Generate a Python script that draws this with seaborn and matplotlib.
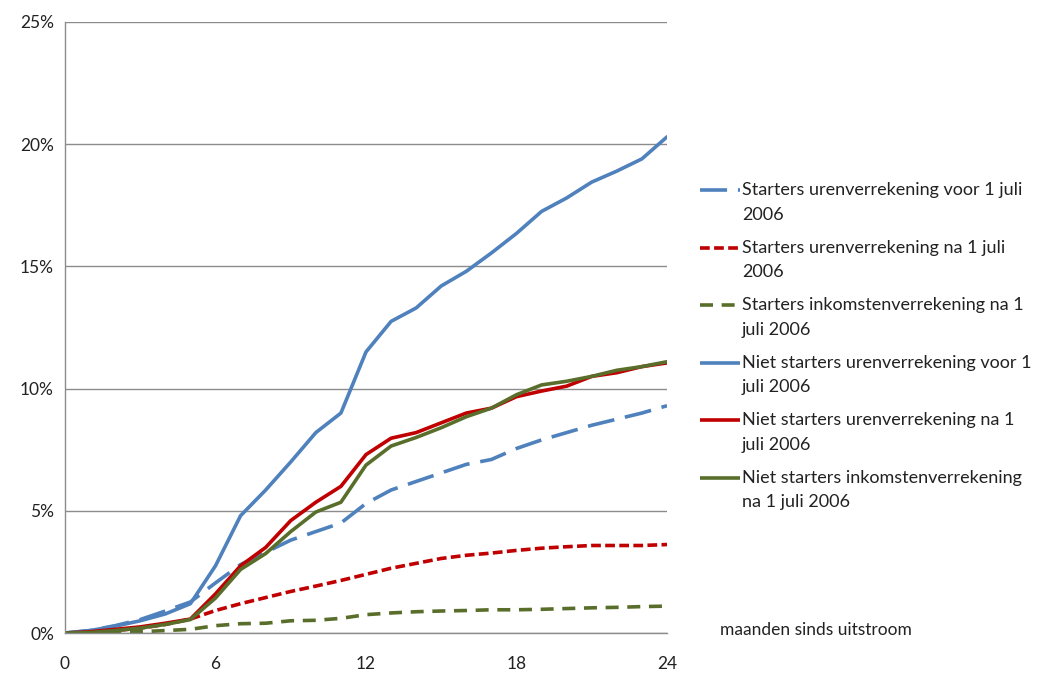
import matplotlib
matplotlib.use("Agg")
import matplotlib.pyplot as plt
from matplotlib.lines import Line2D
import seaborn as sns
import pandas as pd
from matplotlib.ticker import FuncFormatter

months = list(range(0, 25))

starters_uren_voor = [0, 0.1, 0.3, 0.55, 0.9, 1.27, 2.05, 2.8, 3.3, 3.8, 4.15, 4.5, 5.3,
                      5.85, 6.2, 6.55, 6.9, 7.1, 7.55, 7.9, 8.2, 8.5, 8.75, 9.0, 9.3]
starters_uren_na = [0, 0.02, 0.1, 0.2, 0.35, 0.57, 0.92, 1.2, 1.45, 1.7, 1.92, 2.15, 2.4,
                    2.65, 2.85, 3.05, 3.18, 3.27, 3.38, 3.47, 3.53, 3.58, 3.58, 3.58, 3.62]
starters_ink_na = [0, 0.0, 0.05, 0.05, 0.1, 0.15, 0.3, 0.38, 0.4, 0.5, 0.52, 0.6, 0.75,
                   0.82, 0.87, 0.9, 0.92, 0.95, 0.95, 0.97, 1.0, 1.03, 1.05, 1.08, 1.1]
niet_uren_voor = [0, 0.1, 0.28, 0.5, 0.78, 1.2, 2.75, 4.8, 5.85, 7.0, 8.2, 9.0, 11.5,
                  12.75, 13.3, 14.2, 14.8, 15.55, 16.35, 17.25, 17.8, 18.45, 18.9, 19.4, 20.3]
niet_uren_na = [0, 0.05, 0.15, 0.25, 0.4, 0.57, 1.6, 2.75, 3.5, 4.6, 5.35, 6.0, 7.3,
                7.97, 8.2, 8.6, 9.0, 9.2, 9.67, 9.9, 10.1, 10.5, 10.65, 10.9, 11.05]
niet_ink_na = [0, 0.02, 0.1, 0.2, 0.35, 0.55, 1.43, 2.6, 3.25, 4.15, 4.95, 5.35, 6.87,
               7.65, 8.0, 8.4, 8.85, 9.2, 9.75, 10.15, 10.3, 10.5, 10.75, 10.9, 11.1]

labels = [
    "Starters urenverrekening voor 1 juli\n2006",
    "Starters urenverrekening na 1 juli\n2006",
    "Starters inkomstenverrekening na 1\njuli 2006",
    "Niet starters urenverrekening voor 1\njuli 2006",
    "Niet starters urenverrekening na 1\njuli 2006",
    "Niet starters inkomstenverrekening\nna 1 juli 2006",
]
series = [starters_uren_voor, starters_uren_na, starters_ink_na,
          niet_uren_voor, niet_uren_na, niet_ink_na]

blue = "#4F81BD"
red = "#C00000"
green = "#5A6E2B"
colors = [blue, red, green, blue, red, green]
dash_styles = [(7.5, 3.0), (2.7, 1.2), (3.6, 2.4), None, None, None]

sns.set_style("white")
plt.rcParams['font.family'] = ['Lato', 'DejaVu Sans']

W, H = 1041, 674
fig = plt.figure(figsize=(W / 100, H / 100), dpi=100)
ax = fig.add_axes([65 / W, 41 / H, 602 / W, 611 / H])

for lab, vals, col, ds in zip(labels, series, colors, dash_styles):
    df = pd.DataFrame({"maand": months, "waarde": vals})
    sns.lineplot(data=df, x="maand", y="waarde", ax=ax, color=col, linewidth=2.6,
                 legend=False)
    line = ax.get_lines()[-1]
    if ds is not None:
        line.set_dashes(ds)
        line.set_dash_capstyle("butt")

ax.set_xlim(0, 24)
ax.set_ylim(0, 25)
ax.set_xticks([0, 6, 12, 18, 24])
ax.set_yticks([0, 5, 10, 15, 20, 25])
ax.yaxis.set_major_formatter(FuncFormatter(lambda v, p: f"{int(v)}%"))
ax.grid(axis="y", color="#8C8C8C", linewidth=1.0)
ax.grid(axis="x", visible=False)
ax.set_axisbelow(True)
for s in ["top", "right"]:
    ax.spines[s].set_visible(False)
for s in ["left", "bottom"]:
    ax.spines[s].set_color("#8C8C8C")
    ax.spines[s].set_linewidth(1.0)
ax.tick_params(axis="x", direction="out", length=4.5, width=1, color="#8C8C8C",
               pad=12, labelsize=12.5, labelcolor="#222222")
ax.tick_params(axis="y", direction="out", length=4, width=1, color="#8C8C8C",
               pad=4, labelsize=12.5, labelcolor="#222222")
ax.set_xlabel("")
ax.set_ylabel("")

fig.text(720 / W, 1 - 630 / H, "maanden sinds uitstroom", fontsize=12.5,
         color="#222222", va="center", ha="left")

# legend, laid out like the reference (handle next to first text line)
for i, (lab, col, ds) in enumerate(zip(labels, colors, dash_styles)):
    yc = 190 + 57.6 * i
    ln = Line2D([700 / W, 740 / W], [1 - yc / H, 1 - yc / H], transform=fig.transFigure,
                color=col, linewidth=2.6, solid_capstyle="butt")
    if ds is not None:
        ln.set_dashes(ds)
        ln.set_dash_capstyle("butt")
    fig.add_artist(ln)
    l1, l2 = lab.split("\n")
    fig.text(742 / W, 1 - yc / H, l1, fontsize=13, color="#222222", va="center", ha="left")
    fig.text(742 / W, 1 - (yc + 24.5) / H, l2, fontsize=13, color="#222222", va="center", ha="left")

fig.savefig("out.png", dpi=100)
